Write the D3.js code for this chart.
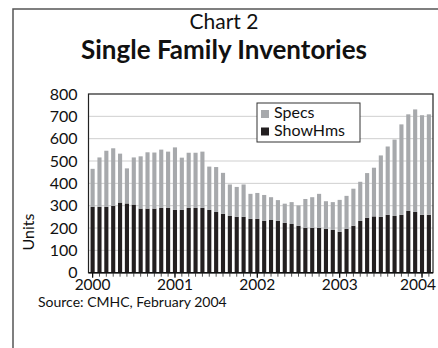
<!DOCTYPE html>
<html lang="en">
<head>
<meta charset="UTF-8">
<title>Single Family Inventories</title>
<script src="https://d3js.org/d3.v7.min.js"></script>
<style>
    body, html {
        margin: 0;
        padding: 0;
        background: #fff;
    }
    svg text {
        font-family: Lato, "Open Sans", sans-serif;
        fill: #111;
    }
</style>
</head>
<body>
<div id="chart"></div>
<script>
    // monthly, Jan 2000 .. Feb 2004
    const months = d3.timeMonth.range(new Date(2000, 0, 1), new Date(2004, 2, 1));
    const showHms = [295, 295, 295, 299, 314, 310, 305, 287, 287, 287, 290, 290,
                     281, 281, 290, 290, 290, 281, 272, 264, 254, 250, 250, 241,
                     241, 232, 236, 232, 223, 218, 210, 201, 201, 201, 196, 192,
                     183, 196, 210, 232, 246, 252, 250, 259, 254, 259, 277, 272,
                     259, 259];
    const specs = [170, 221, 251, 258, 219, 157, 211, 234, 252, 251, 261, 252,
                   280, 234, 247, 247, 252, 194, 201, 183, 141, 134, 145, 112,
                   116, 116, 102, 93, 86, 98, 91, 129, 137, 152, 124, 124,
                   143, 148, 166, 175, 200, 218, 275, 306, 342, 405, 432, 459,
                   446, 450];
    const seriesNames = ["ShowHms", "Specs"];
    const legendNames = ["Specs", "ShowHms"];
    const yTicks = [0, 100, 200, 300, 400, 500, 600, 700, 800];

    const W = 438, H = 348;
    const plot = { left: 88.5, right: 433, top: 94, bottom: 272.7 };
    const colors = { ShowHms: "#231f20", Specs: "#a7a9ac" };

    const svg = d3.select("#chart").append("svg")
        .attr("width", W)
        .attr("height", H);

    // outer frame (left + top only)
    svg.append("path")
        .attr("d", `M13,${H} L13,9 L${W},9`)
        .attr("fill", "none")
        .attr("stroke", "#555")
        .attr("stroke-width", 1.5);

    // titles
    svg.append("text")
        .attr("x", 224).attr("y", 29)
        .attr("text-anchor", "middle")
        .style("font-size", "21px")
        .text("Chart 2");
    svg.append("text")
        .attr("x", 224).attr("y", 59)
        .attr("text-anchor", "middle")
        .style("font-size", "26px")
        .style("font-weight", "bold")
        .text("Single Family Inventories");

    const x = d3.scaleBand()
        .domain(months.map((d, i) => i))
        .range([plot.left, plot.right])
        .paddingInner(0.4)
        .paddingOuter(0.3);

    const y = d3.scaleLinear()
        .domain([0, 800])
        .range([plot.bottom, plot.top]);

    // grid
    svg.append("g")
        .selectAll("line")
        .data(yTicks.slice(1, -1))
        .enter().append("line")
        .attr("x1", plot.left).attr("x2", plot.right)
        .attr("y1", d => y(d)).attr("y2", d => y(d))
        .attr("stroke", "#cfcfcf")
        .attr("stroke-width", 1);

    // stacked bars
    const table = months.map((m, i) => ({ i: i, ShowHms: showHms[i], Specs: specs[i] }));
    const stacked = d3.stack().keys(seriesNames)(table);

    svg.append("g")
        .selectAll("g")
        .data(stacked)
        .enter().append("g")
        .attr("fill", d => colors[d.key])
        .selectAll("rect")
        .data(d => d)
        .enter().append("rect")
        .attr("x", d => x(d.data.i))
        .attr("width", x.bandwidth())
        .attr("y", d => y(d[1]))
        .attr("height", d => y(d[0]) - y(d[1]));

    // plot border
    svg.append("rect")
        .attr("x", plot.left).attr("y", plot.top)
        .attr("width", plot.right - plot.left)
        .attr("height", plot.bottom - plot.top)
        .attr("fill", "none")
        .attr("stroke", "#222")
        .attr("stroke-width", 1.2);

    // y axis
    const yAxis = svg.append("g")
        .attr("transform", `translate(${plot.left},0)`)
        .call(d3.axisLeft(y).tickValues(yTicks).tickSize(0).tickPadding(11));
    yAxis.select(".domain").remove();
    yAxis.selectAll("text")
        .style("font-size", "16px")
        .attr("fill", "#111");

    svg.append("text")
        .attr("transform", "translate(34,232) rotate(-90)")
        .attr("text-anchor", "middle")
        .style("font-size", "16px")
        .text("Units");

    // x axis: month ticks
    const xMinor = svg.append("g")
        .attr("transform", `translate(0,${plot.bottom})`)
        .call(d3.axisBottom(x).tickSize(4).tickFormat(""));
    xMinor.select(".domain").remove();
    xMinor.selectAll("line").attr("stroke", "#555");

    // x axis: year ticks and labels
    const janIdx = months.map((m, i) => i).filter(i => months[i].getMonth() === 0);
    const xMajor = svg.append("g")
        .attr("transform", `translate(0,${plot.bottom})`)
        .call(d3.axisBottom(x).tickValues(janIdx).tickSize(5).tickPadding(1)
            .tickFormat(i => months[i].getFullYear()));
    xMajor.select(".domain").remove();
    xMajor.selectAll("line").attr("stroke", "#111").attr("stroke-width", 1.2);
    xMajor.selectAll("text")
        .style("font-size", "15.5px")
        .attr("fill", "#111");
    // last year label sits a little left so it stays inside the page
    xMajor.selectAll("text").filter((d, k, n) => k === n.length - 1).attr("dx", "-4");

    svg.append("line")
        .attr("x1", plot.left).attr("x2", plot.right)
        .attr("y1", plot.bottom).attr("y2", plot.bottom)
        .attr("stroke", "#111")
        .attr("stroke-width", 1.5);

    // legend
    const legend = svg.append("g").attr("transform", "translate(257,103)");
    legend.append("rect")
        .attr("width", 103).attr("height", 39)
        .attr("fill", "#fff")
        .attr("stroke", "#333")
        .attr("stroke-width", 1);
    legendNames.forEach((name, k) => {
        legend.append("rect")
            .attr("x", 4).attr("y", 7 + k * 17.5)
            .attr("width", 8).attr("height", 8)
            .attr("fill", colors[name]);
        legend.append("text")
            .attr("x", 17).attr("y", 15 + k * 17.5)
            .style("font-size", "16px")
            .text(name);
    });

    // source
    svg.append("text")
        .attr("x", 38).attr("y", 307)
        .style("font-size", "14px")
        .text("Source: CMHC, February 2004");
</script>
</body>
</html>
